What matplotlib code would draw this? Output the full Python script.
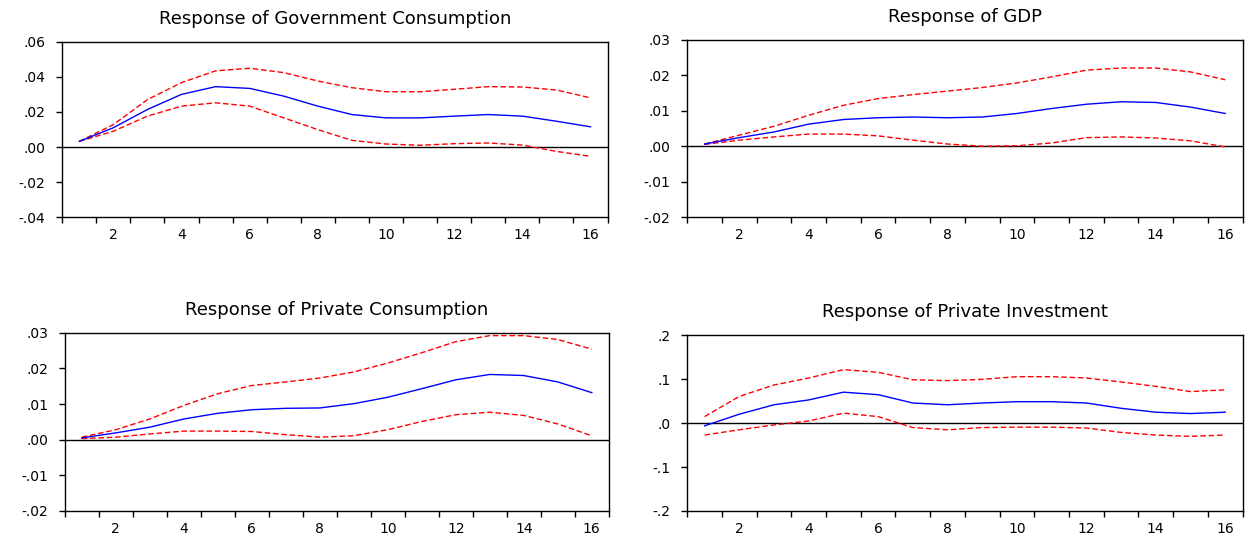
import matplotlib
matplotlib.use('Agg')
import matplotlib.pyplot as plt
import numpy as np

# impulse responses, periods 1..16
periods = list(range(1, 17))

gov_resp = [0.0032, 0.011, 0.0214, 0.030, 0.0344, 0.0334, 0.029, 0.0233,
            0.0185, 0.0166, 0.0166, 0.0176, 0.0185, 0.0176, 0.0147, 0.0115]
gov_upper = [0.0032, 0.0128, 0.027, 0.0367, 0.0434, 0.0449, 0.0424, 0.0376,
             0.0338, 0.0315, 0.0315, 0.0329, 0.0344, 0.0342, 0.0325, 0.028]
gov_lower = [0.0032, 0.009, 0.0176, 0.0233, 0.0252, 0.0233, 0.0166, 0.0099,
             0.0038, 0.0017, 0.001, 0.0019, 0.0023, 0.0011, -0.0025, -0.0053]

gdp_resp = [0.0006, 0.0024, 0.004, 0.0062, 0.0075, 0.008, 0.0082, 0.008,
            0.0082, 0.0092, 0.0106, 0.0118, 0.0125, 0.0123, 0.011, 0.0092]
gdp_upper = [0.0006, 0.0031, 0.0056, 0.0087, 0.0115, 0.0134, 0.0145, 0.0155,
             0.0165, 0.0178, 0.0195, 0.0214, 0.022, 0.022, 0.0209, 0.0187]
gdp_lower = [0.0005, 0.0017, 0.0026, 0.0034, 0.0034, 0.0029, 0.0017, 0.0006,
             0.0, 0.0001, 0.0009, 0.0024, 0.0026, 0.0023, 0.0015, -0.0002]

pc_resp = [0.0005, 0.0019, 0.0035, 0.0058, 0.0074, 0.0084, 0.0088, 0.0089,
           0.0101, 0.0119, 0.0143, 0.0168, 0.0183, 0.018, 0.0162, 0.0132]
pc_upper = [0.0007, 0.0028, 0.0058, 0.0096, 0.0129, 0.0152, 0.0162, 0.0173,
            0.019, 0.0215, 0.0244, 0.0275, 0.0292, 0.0292, 0.0281, 0.0254]
pc_lower = [0.0003, 0.0007, 0.0016, 0.0024, 0.0024, 0.0023, 0.0014, 0.0007,
            0.0011, 0.0028, 0.0051, 0.007, 0.0077, 0.0068, 0.0044, 0.0011]

pi_resp = [-0.006, 0.0205, 0.042, 0.053, 0.0707, 0.065, 0.046, 0.042,
           0.046, 0.049, 0.049, 0.046, 0.034, 0.025, 0.022, 0.025]
pi_upper = [0.015, 0.061, 0.087, 0.103, 0.122, 0.116, 0.099, 0.097,
            0.100, 0.106, 0.106, 0.103, 0.094, 0.084, 0.072, 0.076]
pi_lower = [-0.027, -0.015, -0.004, 0.005, 0.023, 0.015, -0.010, -0.015,
            -0.010, -0.009, -0.009, -0.011, -0.021, -0.027, -0.030, -0.027]

titles = ['Response of Government Consumption', 'Response of GDP',
          'Response of Private Consumption', 'Response of Private Investment']

gov_ticks = [-0.04, -0.02, 0.0, 0.02, 0.04, 0.06]
gov_labels = ['-.04', '-.02', '.00', '.02', '.04', '.06']
gdp_ticks = [-0.02, -0.01, 0.0, 0.01, 0.02, 0.03]
gdp_labels = ['-.02', '-.01', '.00', '.01', '.02', '.03']
pc_ticks = gdp_ticks
pc_labels = gdp_labels
pi_ticks = [-0.2, -0.1, 0.0, 0.1, 0.2]
pi_labels = ['-.2', '-.1', '.0', '.1', '.2']

x_labels = ['2', '4', '6', '8', '10', '12', '14', '16']

panels = [
    (gov_resp, gov_upper, gov_lower, gov_ticks, gov_labels, [0.050, 0.594, 0.438, 0.328]),
    (gdp_resp, gdp_upper, gdp_lower, gdp_ticks, gdp_labels, [0.552, 0.594, 0.446, 0.332]),
    (pc_resp, pc_upper, pc_lower, pc_ticks, pc_labels, [0.052, 0.045, 0.437, 0.333]),
    (pi_resp, pi_upper, pi_lower, pi_ticks, pi_labels, [0.552, 0.045, 0.446, 0.328]),
]

fig = plt.figure(figsize=(12.45, 5.35), dpi=100)
fig.patch.set_facecolor('white')

for (resp, up, lo, yt, yl, pos), title in zip(panels, titles):
    ax = fig.add_axes(pos)
    ax.plot(periods, up, color='#ff0000', lw=1.0, dashes=(4, 2))
    ax.plot(periods, lo, color='#ff0000', lw=1.0, dashes=(4, 2))
    ax.plot(periods, resp, color='#0000ff', lw=1.0)
    ax.axhline(0, color='black', lw=1.0, zorder=1)

    ax.set_xlim(0.5, 16.5)
    ax.set_ylim(yt[0], yt[-1])
    ax.set_yticks(yt)
    ax.set_yticklabels(yl)
    ax.set_xticks([int(s) for s in x_labels])
    ax.set_xticklabels(x_labels)
    ax.set_xticks(np.arange(0.5, 16.6, 1.0), minor=True)
    ax.tick_params(axis='x', which='major', length=0, pad=8, labelsize=10)
    ax.tick_params(axis='x', which='minor', length=4, width=1.0, direction='out')
    ax.tick_params(axis='y', length=4, width=1.0, direction='out', pad=8,
                   labelsize=10)
    for sp in ax.spines.values():
        sp.set_linewidth(1.0)
        sp.set_color('black')
    ax.set_title(title, fontsize=13, pad=13)

plt.savefig('out.png', dpi=100, facecolor='white')
plt.close()
